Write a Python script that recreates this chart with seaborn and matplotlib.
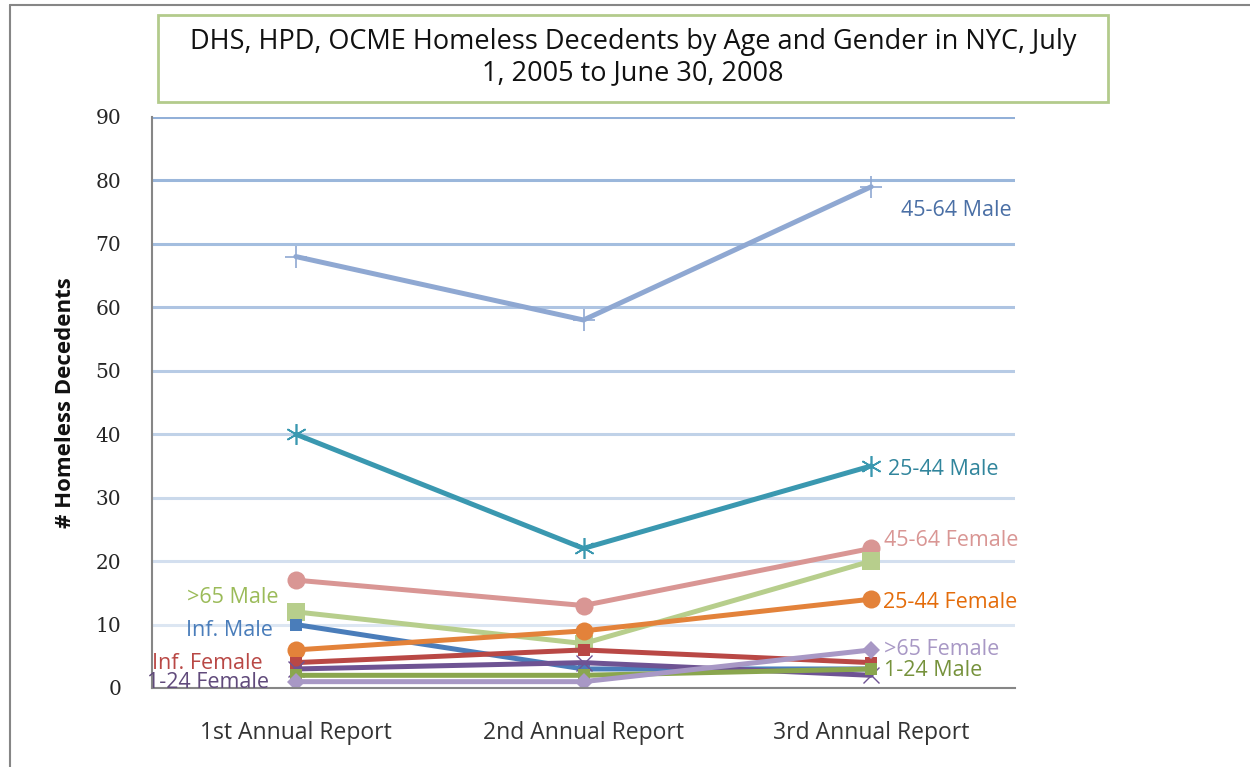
import numpy as np
import pandas as pd
import matplotlib
matplotlib.use("Agg")
import matplotlib.pyplot as plt
import matplotlib.colors as mcolors
from matplotlib.lines import Line2D
from matplotlib.patches import Rectangle
import seaborn as sns

# data
reports = ["1st Annual Report", "2nd Annual Report", "3rd Annual Report"]
male_45_64 = [68, 58, 79]
male_25_44 = [40, 22, 35]
female_45_64 = [17, 13, 22]
male_over65 = [12, 7, 20]
male_infant = [10, 3, 3]
female_25_44 = [6, 9, 14]
female_infant = [4, 6, 4]
female_1_24 = [3, 4, 2]
male_1_24 = [2, 2, 3]
female_over65 = [1, 1, 6]
y_ticks = list(range(0, 100, 10))

series = [
    ("45-64 Male", male_45_64),
    ("25-44 Male", male_25_44),
    ("45-64 Female", female_45_64),
    (">65 Male", male_over65),
    ("Inf. Male", male_infant),
    ("25-44 Female", female_25_44),
    ("Inf. Female", female_infant),
    ("1-24 Female", female_1_24),
    ("1-24 Male", male_1_24),
    (">65 Female", female_over65),
]

# styling: line colour, marker, marker size, marker edge width, label colour
style = {
    "45-64 Male": ("#8FA8D2", "+", 16, 1.2, "#4A6FA5"),
    "25-44 Male": ("#3A98B0", (6, 2, 0), 15, 1.2, "#31859C"),
    "45-64 Female": ("#D99694", "o", 13, 0, "#D99694"),
    ">65 Male": ("#B7CE8C", "s", 13, 0, "#9BBB59"),
    "Inf. Male": ("#4A7DBA", "s", 9, 0, "#4A7DBA"),
    "25-44 Female": ("#E3823A", "o", 13, 0, "#E46C0A"),
    "Inf. Female": ("#B94845", "s", 9, 0, "#B94845"),
    "1-24 Female": ("#6E5393", "x", 11, 1.0, "#604A7B"),
    "1-24 Male": ("#8AA64E", "s", 9, 0, "#76923C"),
    ">65 Female": ("#A898C5", "D", 9, 0, "#A898C5"),
}

# label anchor positions (x in category units, y in data units), alignment
label_pos = {
    "45-64 Male": (2.105, 75.2, "left"),
    "25-44 Male": (2.06, 34.5, "left"),
    "45-64 Female": (2.045, 23.2, "left"),
    "25-44 Female": (2.04, 13.4, "left"),
    ">65 Female": (2.045, 6.1, "left"),
    "1-24 Male": (2.045, 2.8, "left"),
    ">65 Male": (-0.06, 14.3, "right"),
    "Inf. Male": (-0.08, 9.1, "right"),
    "Inf. Female": (-0.115, 3.8, "right"),
    "1-24 Female": (-0.095, 0.8, "right"),
}

sns.set_style("white")
plt.rcParams["font.family"] = ["Open Sans", "DejaVu Sans"]

fig = plt.figure(figsize=(12.5, 7.67), dpi=100)
ax = fig.add_axes([0.1216, 0.103, 0.6904, 0.7445])

for name, vals in series:
    col, mk, ms, mew, _ = style[name]
    df = pd.DataFrame({"report": reports, "count": vals})
    sns.lineplot(data=df, x="report", y="count", ax=ax, color=col, lw=3.6,
                 marker=mk, markersize=ms, markeredgewidth=mew,
                 markeredgecolor=col, markerfacecolor=col, sort=False)

for name, _ in series:
    x, y, ha = label_pos[name]
    ax.text(x, y, name, ha=ha, va="center", fontsize=15.5,
            color=style[name][4])

ax.set_xlim(-0.5, 2.5)
ax.set_ylim(0, 90)
ax.set_yticks(y_ticks)
ax.set_yticklabels([str(t) for t in y_ticks], family="DejaVu Serif",
                   fontsize=14.5)
ax.tick_params(axis="x", labelsize=16.5, colors="#333333", pad=24, length=0)
ax.tick_params(axis="y", pad=22, length=0)
ax.set_xlabel("")
ax.set_ylabel("# Homeless Decedents", fontsize=16, fontweight="bold",
              labelpad=14, color="#111111")

# gridlines fading from blue at top to pale at bottom
top_c = np.array(mcolors.to_rgb("#92B0D8"))
bot_c = np.array(mcolors.to_rgb("#DCE6F2"))
for t in y_ticks[1:]:
    f = (t - 10) / 80
    ax.axhline(t, color=bot_c + (top_c - bot_c) * f, lw=2.2, zorder=0)

for s in ["top", "right"]:
    ax.spines[s].set_visible(False)
ax.spines["left"].set_color("#868686")
ax.spines["bottom"].set_color("#868686")
ax.spines["left"].set_linewidth(1.5)
ax.spines["bottom"].set_linewidth(1.5)

# title box
fig.patches.append(Rectangle((158 / 1250, 1 - 102 / 767), 950 / 1250, 87 / 767,
                             transform=fig.transFigure, fill=False,
                             edgecolor="#B3CB8C", lw=2))
fig.text(633 / 1250, 1 - 58 / 767,
         "DHS, HPD, OCME Homeless Decedents by Age and Gender in NYC, July\n1, 2005 to June 30, 2008",
         ha="center", va="center", fontsize=19.5, linespacing=1.15,
         color="#111111")

# outer frame (left and top edges)
fig.lines.append(Line2D([10 / 1250, 10 / 1250], [0, 1 - 5 / 767],
                        transform=fig.transFigure, color="#868686", lw=1.5))
fig.lines.append(Line2D([10 / 1250, 1], [1 - 5 / 767, 1 - 5 / 767],
                        transform=fig.transFigure, color="#868686", lw=1.5))

fig.savefig("out.png", dpi=100)
